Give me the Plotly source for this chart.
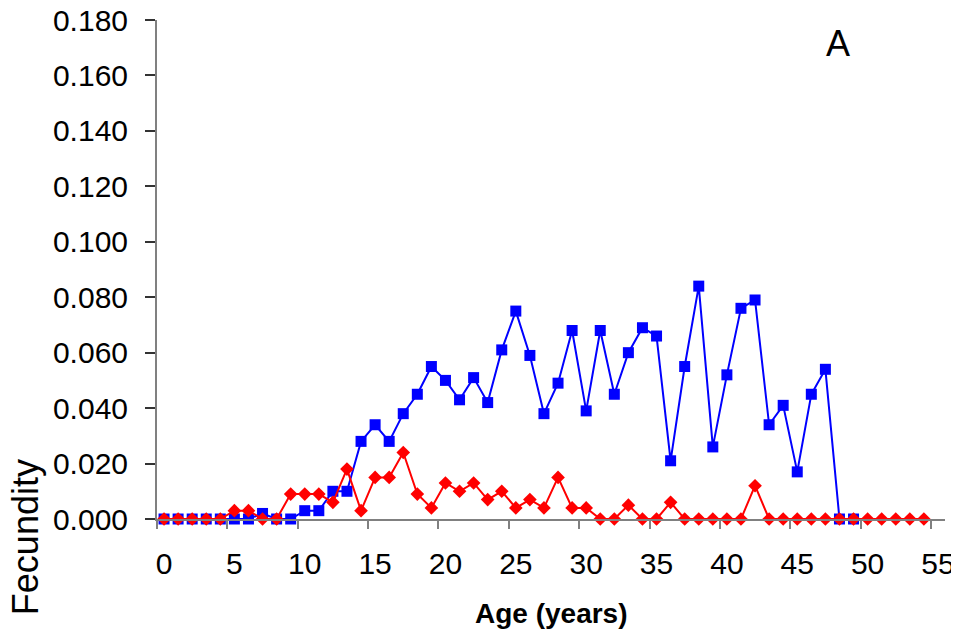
import plotly.graph_objects as go

# Data
age_blue = list(range(0, 50))
fec_blue = [0.000, 0.000, 0.000, 0.000, 0.000, 0.000, 0.000, 0.002, 0.000, 0.000,
            0.003, 0.003, 0.010, 0.010, 0.028, 0.034, 0.028, 0.038, 0.045, 0.055,
            0.050, 0.043, 0.051, 0.042, 0.061, 0.075, 0.059, 0.038, 0.049, 0.068,
            0.039, 0.068, 0.045, 0.060, 0.069, 0.066, 0.021, 0.055, 0.084, 0.026,
            0.052, 0.076, 0.079, 0.034, 0.041, 0.017, 0.045, 0.054, 0.000, 0.000]

age_red = list(range(0, 55))
fec_red = [0.000, 0.000, 0.000, 0.000, 0.000, 0.003, 0.003, 0.000, 0.000, 0.009,
           0.009, 0.009, 0.006, 0.018, 0.003, 0.015, 0.015, 0.024, 0.009, 0.004,
           0.013, 0.010, 0.013, 0.007, 0.010, 0.004, 0.007, 0.004, 0.015, 0.004,
           0.004, 0.000, 0.000, 0.005, 0.000, 0.000, 0.006, 0.000, 0.000, 0.000,
           0.000, 0.000, 0.012, 0.000, 0.000, 0.000, 0.000, 0.000, 0.000, 0.000,
           0.000, 0.000, 0.000, 0.000, 0.000]

x_ticks = list(range(0, 56, 5))
x_tick_marks = [v - 0.5 for v in x_ticks]

font_family = "Liberation Sans, Arial, sans-serif"

trace0 = go.Scatter(
    x=age_blue, y=fec_blue, mode='lines+markers',
    line=dict(color='rgb(0,0,255)', width=2),
    marker=dict(symbol='square', size=11, color='rgb(0,0,255)'),
    cliponaxis=False, showlegend=False
)
trace1 = go.Scatter(
    x=age_red, y=fec_red, mode='lines+markers',
    line=dict(color='rgb(255,0,0)', width=2),
    marker=dict(symbol='diamond', size=10.5, color='rgb(255,0,0)'),
    cliponaxis=False, showlegend=False
)

fig = go.Figure(data=[trace0, trace1])

# page body adds an 8px margin, so the figure is a bit smaller than the window
fig.update_layout(
    width=951, height=622,
    margin=dict(l=149, r=14, t=12, b=111),
    paper_bgcolor='white', plot_bgcolor='white',
    font=dict(family=font_family, size=30, color='black'),
    xaxis=dict(
        range=[-0.5, 55.5], showgrid=False, zeroline=False, automargin=False,
        showline=True, linecolor='#808080', linewidth=2,
        tickmode='array', tickvals=x_ticks, ticks='',
        ticklabelstandoff=17, ticklabeloverflow='allow',
        minor=dict(tickmode='array', tickvals=x_tick_marks, ticks='outside',
                   ticklen=8, tickcolor='#808080', tickwidth=1.5),
    ),
    yaxis=dict(
        range=[0, 0.18], dtick=0.02, tickformat='.3f', showgrid=False,
        zeroline=False, showline=True, linecolor='#808080', linewidth=2,
        automargin=False, ticklabeloverflow='allow',
        ticks='outside', ticklen=10, tickcolor='#333333', tickwidth=1.5,
        ticklabelstandoff=11,
    ),
    annotations=[
        dict(text='Fecundity', xref='paper', yref='paper', x=-0.166, y=-0.036,
             textangle=-90, showarrow=False, xanchor='center', yanchor='middle',
             font=dict(size=36)),
        dict(text='<b>Age (years)</b>', xref='paper', yref='paper', x=0.5, y=-0.19,
             showarrow=False, xanchor='center', yanchor='middle',
             font=dict(size=28)),
        dict(text='A', xref='paper', yref='paper', x=0.864, y=0.953,
             showarrow=False, xanchor='center', yanchor='middle',
             font=dict(size=36)),
    ],
)

fig.write_html("out.html")
